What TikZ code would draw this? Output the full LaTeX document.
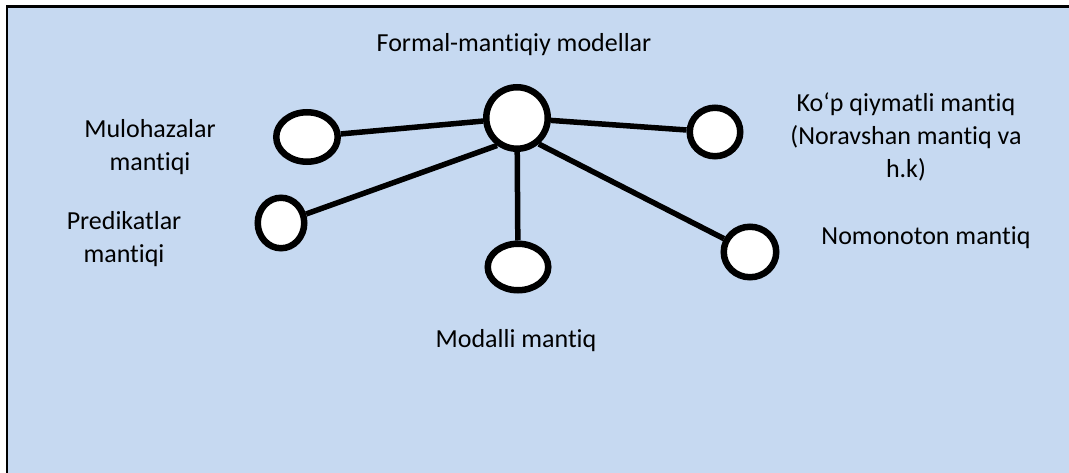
\documentclass[tikz,border=0pt]{standalone}
\usepackage{fontspec}
\setmainfont{Carlito}[Ligatures={NoCommon}]
\usetikzlibrary{shapes.geometric}
\definecolor{bgblue}{HTML}{C6D9F1}
\begin{document}
\begin{tikzpicture}[x=1pt,y=-1pt,
  bubble/.style={draw=black,fill=white,line width=6.5pt,ellipse,inner sep=0pt},
  link/.style={line width=5.5pt},
  lbl/.style={font=\fontsize{26}{33}\selectfont,align=center,inner sep=0pt}]
\useasboundingbox (0,0) rectangle (1069,473);
\fill[white] (0,0) rectangle (1069,473);
\fill[bgblue] (7,7) rectangle (1069,473);
\draw[line width=2.5pt] (7,473) -- (7,6.5) -- (1069,6.5);
\node[bubble,minimum width=61.5pt,minimum height=61.5pt] (c) at (517,118) {};
\node[bubble,minimum width=61.5pt,minimum height=49.5pt] (mu) at (307,137) {};
\node[bubble,minimum width=46.5pt,minimum height=50.5pt] (pr) at (281,223) {};
\node[bubble,minimum width=60.5pt,minimum height=46.5pt] (mo) at (518,267) {};
\node[bubble,minimum width=50.5pt,minimum height=48.5pt] (ko) at (715,132) {};
\node[bubble,minimum width=52.5pt,minimum height=50.5pt] (no) at (750,252) {};
\draw[link] (mu) -- (c);
\draw[link] (ko) -- (c);
\draw[link] (mo) -- (c);
\draw[link] (pr) -- (c.234);
\draw[link] (c.-50) -- (no);
\node[lbl,anchor=base] (t0) at (514,52) {Formal-mantiqiy modellar};
\node[lbl,anchor=base] (t1) at (150,171) {Mulohazalar\\ mantiqi};
\node[lbl,anchor=base] (t2) at (124,263) {Predikatlar\\ mantiqi};
\node[lbl,anchor=base] (t3) at (516,348) {Modalli mantiq};
\node[lbl,anchor=base] (t4) at (906,178) {Ko‘p qiymatli mantiq\\ (Noravshan mantiq va\\ h.k)};
\node[lbl,anchor=base] (t5) at (926,245) {Nomonoton mantiq};
\end{tikzpicture}
\end{document}
